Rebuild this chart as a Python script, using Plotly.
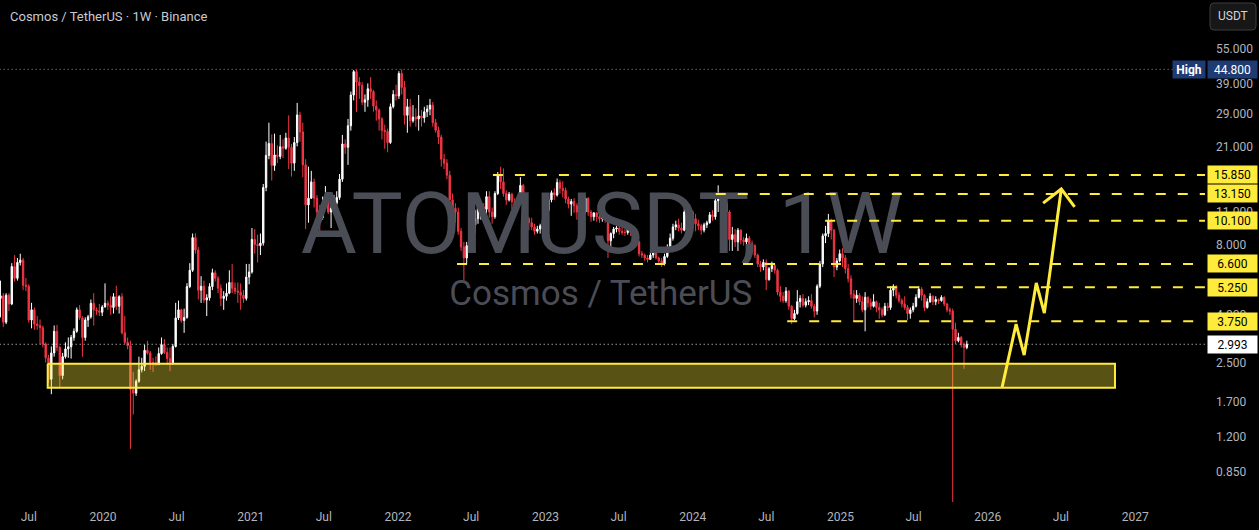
import math
import pandas as pd
import plotly.graph_objects as go

# weekly candles ATOM/USDT (Binance), first week starting 2019-04-22
first_open = 4.7

close_2019 = [4.82, 3.72, 4.85, 4.45, 6.43, 5.73, 6.70, 6.85, 5.35, 5.30, 3.80, 4.20, 3.65, 3.60, 3.52, 3.00,
              2.62, 2.12, 2.75, 3.40, 2.90, 2.20, 2.65, 2.86, 2.92, 3.20, 3.40, 4.20, 3.88, 3.20, 3.80, 3.92,
              4.48, 4.20, 4.16, 4.10, 4.32]
high_2019 = [5.6, 4.95, 4.95, 4.95, 6.65, 7.2, 7.0, 7.3, 7.0, 5.75, 5.4, 4.5, 4.3, 3.95, 3.82, 3.6,
             3.05, 2.7, 2.93, 3.6, 3.62, 2.95, 2.75, 3.05, 3.2, 3.28, 3.5, 4.3, 4.4, 3.95, 3.9, 4.0,
             4.65, 4.95, 4.3, 4.45, 4.4]
low_2019 = [3.9, 3.55, 3.65, 4.15, 4.4, 5.55, 5.6, 6.5, 5.1, 5.05, 3.7, 3.5, 3.45, 3.45, 3.0, 2.9,
            2.5, 2.05, 1.83, 2.65, 2.8, 1.95, 2.12, 2.6, 2.62, 2.6, 3.1, 3.35, 3.8, 2.65, 3.1, 3.55,
            3.85, 3.6, 4.0, 3.95, 3.95]

close_2020 = [4.48, 4.40, 4.30, 4.78, 4.35, 4.78, 3.35, 3.05, 2.95, 1.92, 1.85, 2.08, 2.33, 2.41, 2.82, 2.75,
              2.50, 2.49, 2.45, 2.73, 2.98, 2.76, 2.60, 2.50, 2.93, 3.88, 4.20, 3.78, 3.90, 5.28, 6.20, 8.55,
              7.57, 5.10, 5.30, 4.63, 4.73, 5.28, 6.05, 5.73, 5.20, 4.70, 4.80, 4.95, 5.50, 5.20, 5.05, 5.00,
              4.85, 4.70, 5.80, 6.10]
high_2020 = [5.45, 4.6, 4.8, 4.95, 5.33, 4.85, 4.95, 3.95, 3.2, 3.1, 2.28, 2.12, 2.65, 2.62, 2.98, 3.1,
             2.8, 2.62, 2.66, 2.9, 3.2, 3.15, 2.9, 2.9, 3.0, 4.5, 4.6, 4.25, 4.25, 5.46, 6.65, 8.9,
             8.92, 7.8, 5.85, 5.6, 4.9, 5.46, 6.3, 6.2, 5.85, 5.4, 5.05, 5.45, 6.2, 6.6, 5.5, 5.5,
             5.45, 5.1, 6.6, 6.6]
low_2020 = [4.3, 4.2, 4.0, 4.05, 4.2, 4.05, 3.3, 3.0, 2.85, 1.07, 1.5, 1.8, 2.05, 2.27, 2.3, 2.7,
            2.33, 2.28, 2.42, 2.45, 2.7, 2.72, 2.45, 2.3, 2.45, 2.9, 3.8, 3.7, 3.35, 3.85, 5.2, 6.1,
            7.3, 4.65, 4.5, 4.5, 3.95, 4.6, 5.1, 5.55, 4.95, 4.35, 4.2, 4.6, 4.9, 4.95, 4.9, 4.5,
            4.2, 4.5, 4.6, 5.4]

close_2021 = [8.4, 8.0, 7.9, 8.1, 14.0, 19.2, 21.6, 17.4, 19.3, 19.0, 20.9, 20.6, 22.8, 20.8, 17.8, 21.8,
              28.6, 24.2, 17.5, 11.8, 12.6, 14.8, 12.6, 11.0, 10.4, 12.0, 12.4, 11.0, 11.4, 12.0, 12.7, 15.2,
              21.5, 20.8, 25.7, 34.8, 43.8, 39.5, 38.2, 32.4, 33.2, 37.0, 36.0, 31.2, 30.0, 27.5, 24.6, 24.3,
              21.8, 31.0, 35.0, 34.5]
high_2021 = [9.4, 9.3, 8.8, 8.9, 14.5, 22.0, 26.5, 23.6, 23.8, 21.2, 23.5, 22.5, 24.0, 28.5, 21.5, 23.0,
             32.2, 29.5, 26.5, 18.5, 17.2, 16.5, 15.3, 13.0, 11.8, 12.8, 14.2, 12.8, 12.2, 13.0, 13.5, 16.0,
             23.5, 22.5, 27.5, 36.0, 44.5, 44.6, 41.5, 39.5, 35.0, 39.0, 41.5, 36.5, 33.0, 30.5, 28.0, 26.0,
             25.0, 32.0, 36.5, 38.5]
low_2021 = [6.0, 7.3, 6.7, 7.2, 7.9, 13.5, 18.5, 15.0, 16.5, 17.8, 18.5, 18.7, 20.3, 16.8, 15.6, 16.5,
            21.0, 22.0, 15.5, 9.3, 9.9, 12.5, 11.5, 10.2, 8.7, 10.2, 11.5, 10.8, 9.4, 10.8, 11.3, 12.4,
            14.8, 19.5, 17.5, 24.5, 33.0, 29.5, 33.5, 31.5, 29.5, 31.0, 33.5, 29.5, 27.0, 24.5, 22.5, 20.5,
            19.8, 21.5, 30.5, 33.0]

close_2022 = [43.0, 37.5, 28.5, 31.0, 27.0, 28.0, 27.5, 28.3, 27.8, 29.5, 30.3, 31.5, 26.5, 24.6, 23.0, 18.5,
              17.8, 15.8, 12.4, 11.4, 11.0, 9.1, 7.8, 7.0, 7.9, 8.4, 9.7, 10.3, 11.4, 11.6, 11.3, 12.8,
              11.0, 10.5, 13.2, 15.8, 14.8, 13.2, 12.4, 13.1, 12.2, 11.4, 12.1, 14.3, 9.8, 10.3, 9.9, 9.5,
              9.1, 9.3, 9.6, 10.2]
high_2022 = [44.0, 44.8, 40.0, 33.5, 33.5, 31.5, 30.5, 34.8, 30.0, 31.0, 31.5, 33.5, 32.5, 27.5, 25.5, 23.5,
             19.5, 18.5, 16.5, 13.2, 12.0, 11.5, 9.4, 8.2, 8.2, 9.4, 10.3, 11.2, 11.8, 12.0, 12.0, 13.5,
             13.5, 11.5, 13.5, 16.3, 17.2, 16.9, 13.6, 13.4, 13.3, 12.6, 12.6, 15.5, 14.5, 10.6, 10.5, 10.4,
             9.8, 9.6, 9.8, 10.4]
low_2022 = [33.5, 35.0, 26.0, 24.0, 25.5, 26.5, 25.5, 24.5, 25.5, 26.5, 28.0, 28.5, 25.5, 24.0, 21.5, 17.2,
            16.8, 15.2, 10.3, 10.6, 9.9, 8.8, 7.5, 5.6, 6.6, 7.5, 8.2, 8.9, 9.8, 10.2, 10.5, 10.5,
            10.4, 9.8, 10.3, 13.0, 13.8, 12.8, 11.8, 12.2, 11.3, 11.0, 11.0, 11.8, 8.6, 9.3, 9.2, 9.2,
            8.8, 8.9, 8.9, 9.2]

close_2023 = [11.2, 12.4, 13.3, 13.0, 14.7, 13.9, 13.6, 12.5, 11.9, 12.2, 11.7, 11.0, 10.7, 11.0, 12.6, 11.0,
              10.5, 10.9, 10.5, 10.3, 10.6, 10.2, 8.3, 8.9, 9.3, 9.4, 9.1, 9.0, 9.0, 9.3, 9.0, 8.6,
              8.2, 7.3, 7.2, 7.0, 6.9, 7.2, 7.4, 7.0, 6.8, 6.6, 7.1, 7.6, 8.5, 9.5, 9.7, 9.4,
              9.2, 11.0, 11.5, 11.0]
high_2023 = [11.4, 12.8, 13.6, 13.9, 15.3, 15.1, 14.9, 14.0, 12.8, 12.5, 12.6, 12.0, 11.5, 11.6, 12.8, 12.7,
             11.2, 11.0, 11.0, 10.7, 10.9, 10.7, 10.3, 9.0, 9.5, 9.6, 9.6, 9.7, 9.3, 9.5, 9.4, 9.1,
             8.7, 8.3, 7.5, 7.3, 7.2, 7.4, 7.6, 7.5, 7.1, 7.0, 7.3, 8.0, 8.9, 9.8, 10.1, 10.3,
             9.9, 11.6, 11.8, 11.8]
low_2023 = [9.6, 11.0, 12.1, 12.4, 12.8, 13.2, 12.7, 12.0, 11.4, 10.6, 10.9, 10.2, 10.3, 10.5, 10.8, 10.6,
            10.0, 10.1, 10.0, 9.9, 10.0, 9.9, 7.0, 7.8, 8.5, 9.0, 8.8, 8.8, 8.7, 8.8, 8.7, 8.4,
            7.9, 7.1, 7.0, 6.8, 6.7, 6.9, 7.0, 6.9, 6.6, 6.4, 6.5, 7.0, 7.6, 8.3, 9.2, 9.1,
            8.9, 9.1, 10.7, 10.6]

close_2024 = [10.3, 9.8, 9.6, 9.2, 9.7, 9.9, 10.7, 10.5, 12.3, 12.5, 11.1, 12.0, 11.0, 8.4, 8.8, 8.2,
              9.2, 8.35, 8.2, 8.5, 8.05, 7.9, 7.2, 6.6, 6.4, 6.7, 5.65, 6.3, 6.5, 6.2, 5.0, 4.8,
              4.6, 5.05, 4.35, 3.85, 4.05, 4.55, 4.7, 4.4, 4.55, 4.6, 4.35, 4.15, 5.3, 6.6, 8.7, 8.9,
              10.1, 9.2, 6.4, 6.8, 7.3]
high_2024 = [11.2, 10.8, 10.2, 9.8, 9.9, 10.1, 11.0, 11.2, 12.6, 14.3, 13.2, 12.5, 12.3, 11.2, 9.5, 9.3,
             9.4, 9.3, 8.6, 8.9, 8.7, 8.3, 8.0, 7.3, 6.8, 6.9, 6.9, 6.4, 6.75, 6.6, 6.3, 5.3,
             5.0, 5.25, 5.1, 4.4, 4.2, 5.1, 4.85, 4.9, 4.7, 4.8, 4.9, 4.45, 5.4, 6.8, 8.9, 9.6,
             10.8, 10.3, 9.3, 7.0, 7.6]
low_2024 = [9.3, 9.1, 9.2, 8.8, 9.0, 9.4, 9.8, 10.1, 10.2, 11.0, 10.8, 10.0, 10.6, 7.5, 7.5, 7.8,
            7.5, 8.0, 7.9, 8.0, 7.9, 7.6, 7.0, 6.4, 6.1, 6.2, 5.1, 5.6, 6.1, 6.0, 4.85, 4.55,
            4.5, 4.5, 4.2, 3.65, 3.8, 4.0, 4.3, 4.3, 4.3, 4.4, 4.25, 3.9, 4.0, 5.2, 6.4, 8.1,
            8.6, 8.4, 5.8, 6.2, 6.7]

close_2025 = [7.0, 6.3, 5.7, 4.9, 4.7, 4.85, 4.55, 4.2, 4.75, 4.5, 4.35, 4.55, 4.3, 4.2, 4.0, 4.35,
              4.3, 5.1, 5.3, 4.85, 4.6, 4.45, 4.3, 4.05, 4.2, 4.35, 4.75, 5.15, 4.85, 4.3, 4.55, 4.8,
              4.55, 4.65, 4.6, 4.75, 4.45, 4.2, 4.15, 3.47, 3.1, 3.2, 2.98, 2.9, 2.993]
high_2025 = [7.7, 7.2, 6.6, 5.9, 5.1, 5.1, 4.95, 4.8, 5.0, 4.8, 4.7, 4.9, 4.6, 4.5, 4.3, 4.5,
             4.5, 5.3, 5.4, 5.35, 5.0, 4.7, 4.8, 4.4, 4.3, 4.5, 4.9, 5.3, 5.25, 4.9, 4.7, 4.95,
             4.85, 4.8, 4.7, 4.85, 4.8, 4.5, 4.3, 4.25, 3.7, 3.35, 3.25, 3.05, 3.1]
low_2025 = [6.4, 6.0, 5.5, 4.7, 3.75, 4.5, 4.4, 4.1, 3.4, 4.3, 4.2, 4.3, 4.1, 3.85, 3.9, 3.95,
            4.15, 4.2, 4.8, 4.7, 4.5, 4.3, 4.2, 3.8, 3.85, 4.1, 4.3, 4.7, 4.6, 4.15, 4.25, 4.5,
            4.4, 4.4, 4.45, 4.55, 4.35, 4.1, 4.0, 0.001, 3.0, 3.05, 2.9, 2.35, 2.85]

# drawn levels (price, start date of the dashed line)
level_prices = [15.85, 13.15, 10.10, 6.60, 5.25, 3.75]
level_starts = ['2022-08-24', '2024-02-27', '2024-11-24', '2022-05-27', '2025-04-26', '2024-08-22']

# support zone
zone_dates = ['2019-08-17', '2026-11-12']
zone_prices = [1.95, 2.47]

# projected path
path_dates = ['2026-02-05', '2026-03-12', '2026-04-01', '2026-05-01', '2026-05-21', '2026-07-02']
path_prices = [1.95, 3.65, 2.69, 5.47, 4.07, 13.8]
head_dates = ['2026-05-18', '2026-07-02', '2026-08-04']
head_prices = [12.0, 13.8, 11.56]

y_ticks = [0.85, 1.2, 1.7, 2.5, 4, 8, 11, 21, 29, 39, 55]
x_ticks = ['2019-07-01', '2020-01-01', '2020-07-01', '2021-01-01', '2021-07-01', '2022-01-01',
           '2022-07-01', '2023-01-01', '2023-07-01', '2024-01-01', '2024-07-01', '2025-01-01',
           '2025-07-01', '2026-01-01', '2026-07-01', '2027-01-01']
x_labels = ['Jul', '2020', 'Jul', '2021', 'Jul', '2022', 'Jul', '2023', 'Jul', '2024', 'Jul', '2025',
            'Jul', '2026', 'Jul', '2027']

closes = close_2019 + close_2020 + close_2021 + close_2022 + close_2023 + close_2024 + close_2025
highs = high_2019 + high_2020 + high_2021 + high_2022 + high_2023 + high_2024 + high_2025
lows = low_2019 + low_2020 + low_2021 + low_2022 + low_2023 + low_2024 + low_2025
opens = [first_open] + closes[:-1]
highs = [max(h, o, c) for h, o, c in zip(highs, opens, closes)]
lows = [min(l, o, c) for l, o, c in zip(lows, opens, closes)]
weeks = pd.date_range('2019-04-22', periods=len(closes), freq='W-MON')

last_price = closes[-1]
top_price = max(highs)

YELLOW = '#ffeb3b'
RED = '#f23645'
END = '2027-07-10'
PW, PH = 1205, 502   # plot area in px

fig = go.Figure()

# watermark (behind the candles)
fig.add_trace(go.Scatter(
    x=['2023-05-21'], y=[9.1], mode='text', text=['ATOMUSDT, 1W'],
    textfont=dict(size=86, color='#4b4d56', family='Roboto'),
    textposition='middle center', hoverinfo='skip'
))
fig.add_trace(go.Scatter(
    x=['2023-05-18'], y=[4.81], mode='text', text=['Cosmos / TetherUS'],
    textfont=dict(size=35, color='#4b4d56', family='Roboto'),
    textposition='middle center', hoverinfo='skip'
))

# support zone
fig.add_trace(go.Scatter(
    x=[zone_dates[0], zone_dates[1], zone_dates[1], zone_dates[0], zone_dates[0]],
    y=[zone_prices[1], zone_prices[1], zone_prices[0], zone_prices[0], zone_prices[1]],
    mode='lines', fill='toself', fillcolor='rgba(255,235,59,0.35)',
    line=dict(color=YELLOW, width=2), hoverinfo='skip'
))

fig.add_trace(go.Candlestick(
    x=weeks, open=opens, high=highs, low=lows, close=closes,
    increasing=dict(line=dict(color='#ffffff', width=1), fillcolor='#ffffff'),
    decreasing=dict(line=dict(color=RED, width=1), fillcolor=RED),
    whiskerwidth=0, hoverinfo='skip'
))

# dotted lines: all-time high and last price
fig.add_trace(go.Scatter(
    x=['2019-01-01', END], y=[top_price, top_price], mode='lines',
    line=dict(color='#8a8d96', width=1, dash='1px,3px'), hoverinfo='skip'
))
fig.add_trace(go.Scatter(
    x=['2019-01-01', END], y=[last_price, last_price], mode='lines',
    line=dict(color='#e0e0e0', width=1, dash='1px,3px'), hoverinfo='skip'
))

# dashed target levels
for price, start in zip(level_prices, level_starts):
    fig.add_trace(go.Scatter(
        x=[start, END], y=[price, price], mode='lines',
        line=dict(color=YELLOW, width=2, dash='10px,12px'), hoverinfo='skip'
    ))

# projected zigzag arrow
fig.add_trace(go.Scatter(x=path_dates, y=path_prices, mode='lines',
                         line=dict(color=YELLOW, width=3), hoverinfo='skip'))
fig.add_trace(go.Scatter(x=head_dates, y=head_prices, mode='lines',
                         line=dict(color=YELLOW, width=3), hoverinfo='skip'))

# price-axis badges
badge_x = 1207 / PW
for price in level_prices:
    fig.add_annotation(
        x=badge_x, xref='paper', xanchor='left', y=math.log10(price), yref='y',
        text=f'{price:.3f}', showarrow=False, bgcolor=YELLOW, borderpad=2,
        width=45, height=13, font=dict(color='#000000', size=12, family='Roboto')
    )
fig.add_annotation(
    x=badge_x, xref='paper', xanchor='left', y=math.log10(last_price), yref='y',
    text=f'{last_price:.3f}', showarrow=False, bgcolor='#ffffff', borderpad=2,
    width=45, height=13, font=dict(color='#000000', size=12, family='Roboto')
)
fig.add_annotation(
    x=badge_x, xref='paper', xanchor='left', y=math.log10(top_price), yref='y',
    text=f'{top_price:.3f}', showarrow=False, bgcolor='#1f3b73', borderpad=2,
    width=45, height=13, font=dict(color='#ffffff', size=12, family='Roboto')
)
fig.add_annotation(
    x=1206 / PW, xref='paper', xanchor='right', y=math.log10(top_price), yref='y',
    text='<b>High</b>', showarrow=False, bgcolor='#1f3b73', borderpad=2,
    width=28, height=13, font=dict(color='#ffffff', size=12, family='Roboto')
)

# header text
fig.add_annotation(
    x=8 / PW, xref='paper', xanchor='left', y=(PH - 17) / PH, yref='paper', yanchor='middle',
    text='Cosmos / TetherUS · 1W · Binance', showarrow=False,
    font=dict(color='#c8cad1', size=13, family='Roboto')
)

# USDT button (rounded rectangle)
bx0, bx1 = 1210 / PW, 1256 / PW
by0, by1 = (PH - 30) / PH, (PH - 3) / PH
rx, ry = 4 / PW, 4 / PH
fig.add_shape(
    type='path', xref='paper', yref='paper',
    path=(f'M {bx0 + rx} {by1} L {bx1 - rx} {by1} Q {bx1} {by1} {bx1} {by1 - ry} '
          f'L {bx1} {by0 + ry} Q {bx1} {by0} {bx1 - rx} {by0} L {bx0 + rx} {by0} '
          f'Q {bx0} {by0} {bx0} {by0 + ry} L {bx0} {by1 - ry} Q {bx0} {by1} {bx0 + rx} {by1} Z'),
    fillcolor='#171717', line=dict(color='#3c3c3c', width=1)
)
fig.add_annotation(
    x=(bx0 + bx1) / 2, xref='paper', xanchor='center', y=(by0 + by1) / 2, yref='paper',
    yanchor='middle', text='USDT', showarrow=False,
    font=dict(color='#d1d4dc', size=12, family='Roboto')
)

fig.update_layout(
    width=1259, height=530,
    margin=dict(l=0, r=1259 - PW, t=0, b=530 - PH),
    paper_bgcolor='#000000', plot_bgcolor='#000000',
    showlegend=False, hovermode=False,
    xaxis=dict(
        type='date', range=['2019-04-20 20:00', '2027-06-23'],
        rangeslider=dict(visible=False), showgrid=False, zeroline=False, showline=False,
        tickvals=x_ticks, ticktext=x_labels, ticks='', ticklabelstandoff=6,
        tickfont=dict(color='#b2b5be', size=12, family='Roboto')
    ),
    yaxis=dict(
        type='log', side='right', range=[math.log10(0.6338), math.log10(88.65)],
        showgrid=False, zeroline=False, showline=False,
        tickvals=y_ticks, ticktext=[f'{v:.3f}' for v in y_ticks], ticks='', ticklabelstandoff=10,
        tickfont=dict(color='#b2b5be', size=12, family='Roboto')
    )
)

fig.write_html(
    'out.html', config={'displayModeBar': False},
    post_script="document.body.style.margin='0';document.body.style.overflow='hidden';"
)
